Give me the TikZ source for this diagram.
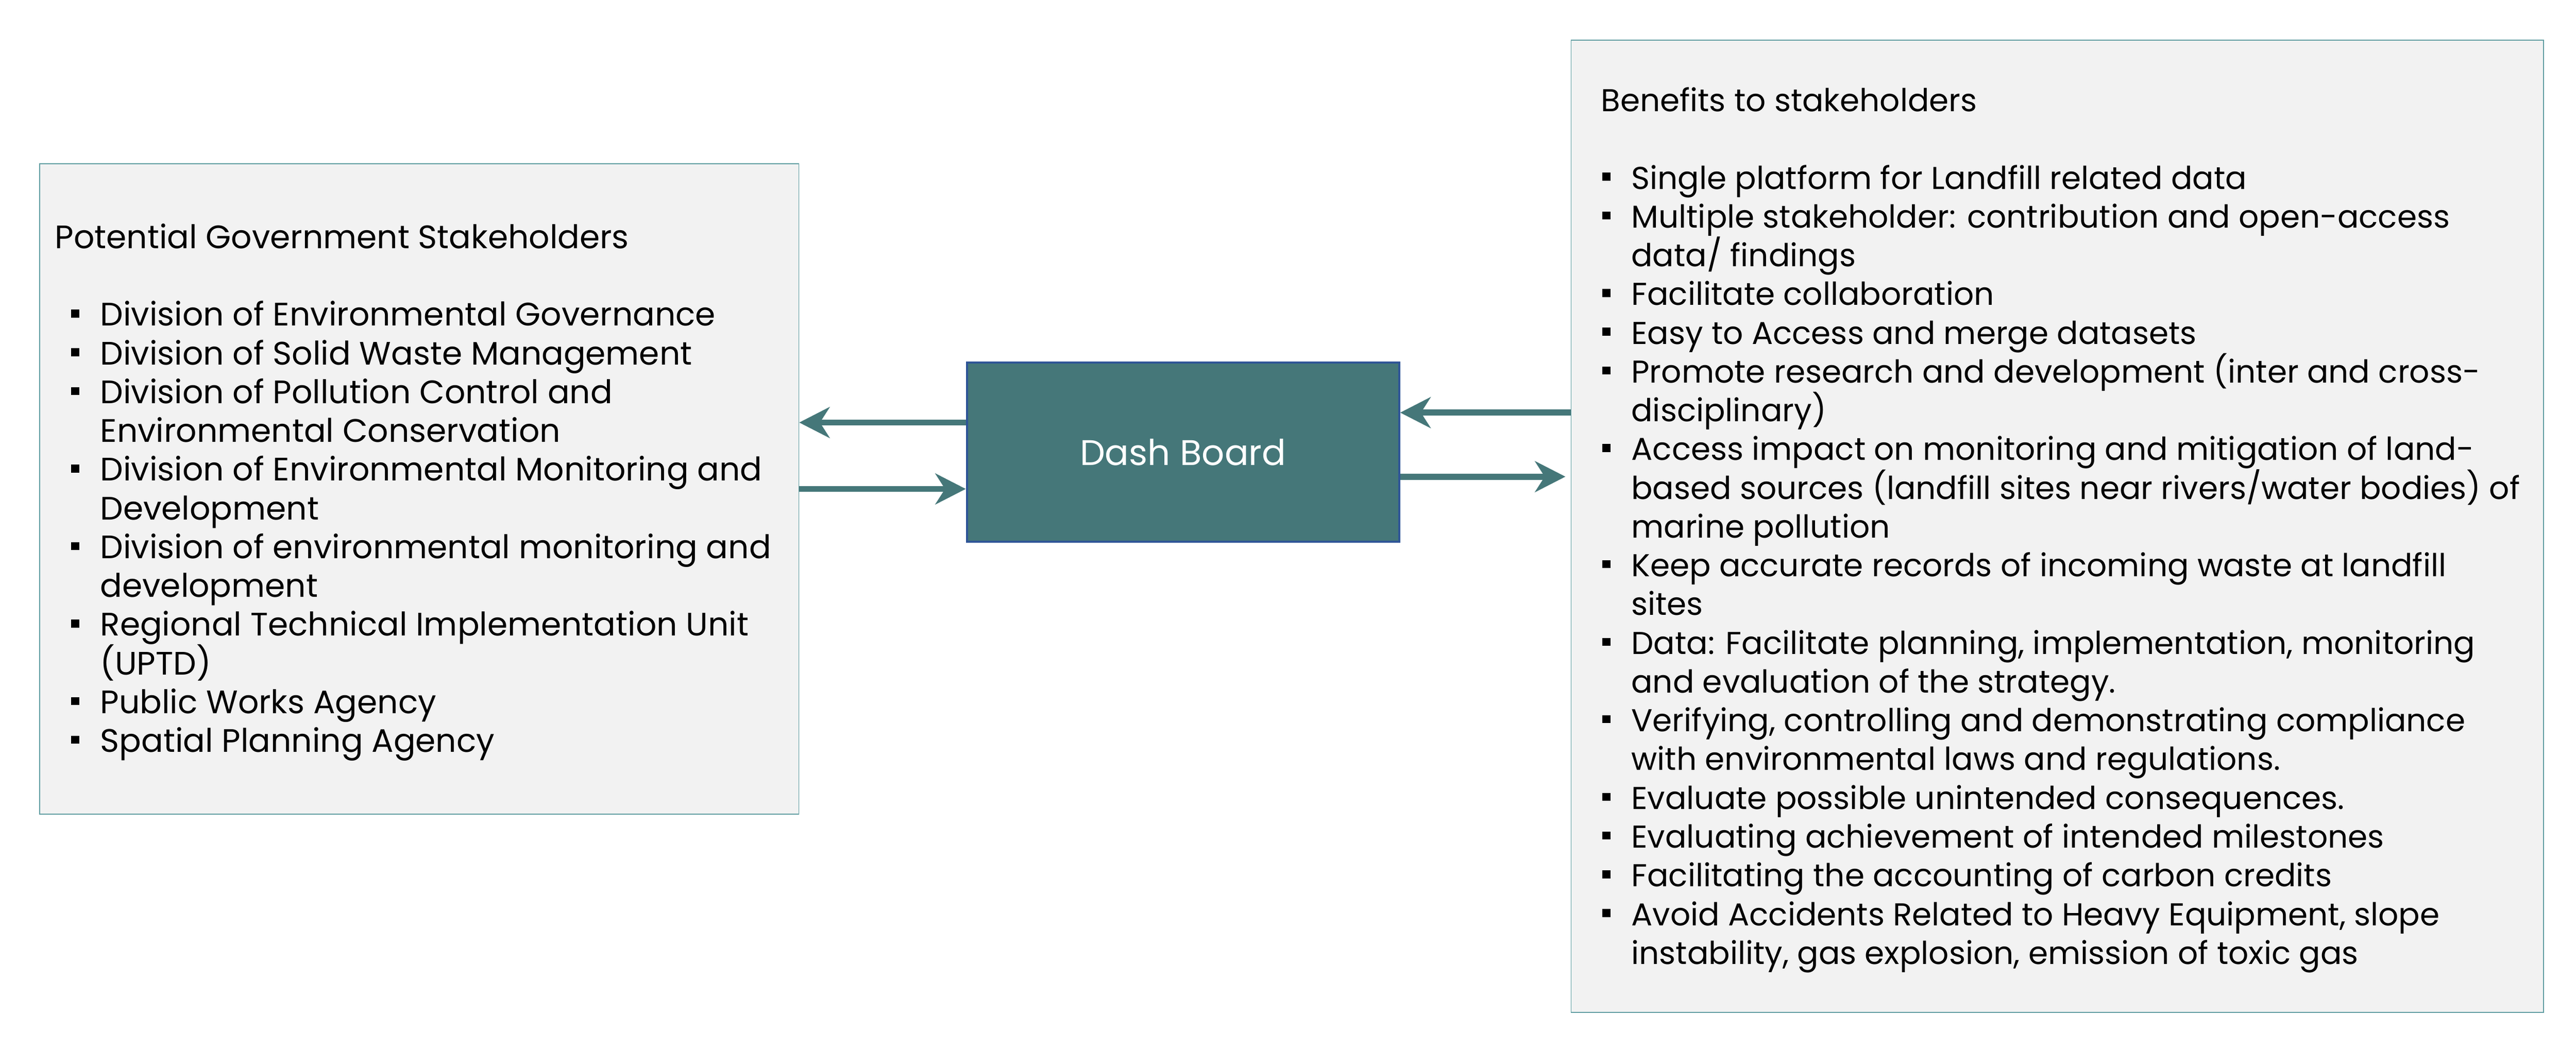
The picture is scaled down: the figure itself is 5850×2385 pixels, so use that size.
\documentclass[tikz,border=0pt]{standalone}
\usepackage{fontspec}
\setmainfont{Poppins}
\usetikzlibrary{arrows.meta,calc,positioning}

\definecolor{dashteal}{HTML}{457779}
\definecolor{dashedge}{HTML}{2F5597}
\definecolor{boxgrey}{HTML}{F2F2F2}
\definecolor{boxedge}{HTML}{5E9CA0}

\newcommand{\sqb}{\rule[0.19cm]{0.19cm}{0.18cm}}
\newcommand{\itm}[1]{\sqb & \smash{#1}}
\newcommand{\cnt}[1]{& \smash{#1}}

\tikzset{
	stakebox/.style={draw=boxedge, line width=0.02cm, fill=boxgrey, inner sep=0, anchor=north west},
	listtext/.style={inner sep=0, anchor=north west, font=\fontsize{21}{25.04}\selectfont},
	dashbox/.style={draw=dashedge, line width=0.05cm, fill=dashteal, text=white,
		minimum width=9.81cm, minimum height=4.07cm, font=\fontsize{23}{27}\selectfont},
	flow/.style={draw=dashteal, line width=0.14cm, -{Stealth[length=0.69cm,width=0.70cm,inset=0.22cm]}}
}

\begin{document}
\begin{tikzpicture}[x=0.01cm,y=0.01cm]
	\useasboundingbox (0,0) rectangle (5850,2385);
	% boxes
	\node[stakebox, minimum width=17.23cm, minimum height=14.77cm] (govbox) at (89,2014) {};
	\node[stakebox, minimum width=22.07cm, minimum height=22.08cm] (benefits) at (3567,2295) {};
	\node[dashbox] (dash) at (2686.5,1357.5) {Dash Board};
	% lists
	\node[listtext] (govlist) at ($(govbox.north west)+(35,-131)$) {%
		\begin{tabular}{@{\hspace{0.37cm}}l@{\hspace{0.47cm}}l@{}}
			\multicolumn{2}{@{}l@{}}{\smash{Potential Government Stakeholders}}\\
			& \\
			\itm{Division of Environmental Governance}\\
			\itm{Division of Solid Waste Management}\\
			\itm{Division of Pollution Control and}\\
			\cnt{Environmental Conservation}\\
			\itm{Division of Environmental Monitoring and}\\
			\cnt{Development}\\
			\itm{Division of environmental monitoring and}\\
			\cnt{development}\\
			\itm{Regional Technical Implementation Unit}\\
			\cnt{(UPTD)}\\
			\itm{Public Works Agency}\\
			\itm{Spatial Planning Agency}
		\end{tabular}};
	\node[listtext, font=\fontsize{20.4}{25.04}\selectfont] (benlist) at ($(benefits.north west)+(68,-101)$) {%
		\begin{tabular}{@{\hspace{0.03cm}}l@{\hspace{0.47cm}}l@{}}
			\multicolumn{2}{@{}l@{}}{\smash{Benefits to stakeholders}}\\
			& \\
			\itm{Single platform for Landfill related data}\\
			\itm{Multiple stakeholder: contribution and open-access}\\
			\cnt{data/ findings}\\
			\itm{Facilitate collaboration}\\
			\itm{Easy to Access and merge datasets}\\
			\itm{Promote research and development (inter and cross-}\\
			\cnt{disciplinary)}\\
			\itm{Access impact on monitoring and mitigation of land-}\\
			\cnt{based sources (landfill sites near rivers/water bodies) of}\\
			\cnt{marine pollution}\\
			\itm{Keep accurate records of incoming waste at landfill}\\
			\cnt{sites}\\
			\itm{Data: Facilitate planning, implementation, monitoring}\\
			\cnt{and evaluation of the strategy.}\\
			\itm{Verifying, controlling and demonstrating compliance}\\
			\cnt{with environmental laws and regulations.}\\
			\itm{Evaluate possible unintended consequences.}\\
			\itm{Evaluating achievement of intended milestones}\\
			\itm{Facilitating the accounting of carbon credits}\\
			\itm{Avoid Accidents Related to Heavy Equipment, slope}\\
			\cnt{instability, gas explosion, emission of toxic gas}
		\end{tabular}};
	% arrows
	\coordinate (outgov) at ($(dash.west)+(0,67.5)$);
	\coordinate (inben) at ($(dash.east)+(0,90)$);
	\coordinate (outben) at ($(dash.east)+(0,-55.5)$);
	\draw[flow] (outgov) -- (outgov -| govbox.east);
	\draw[flow] (govbox.east) -- (govbox.east -| dash.west);
	\draw[flow] (inben -| benefits.west) -- (inben);
	\draw[flow, shorten >=0.12cm] (outben) -- (outben -| benefits.west);
\end{tikzpicture}
\end{document}
